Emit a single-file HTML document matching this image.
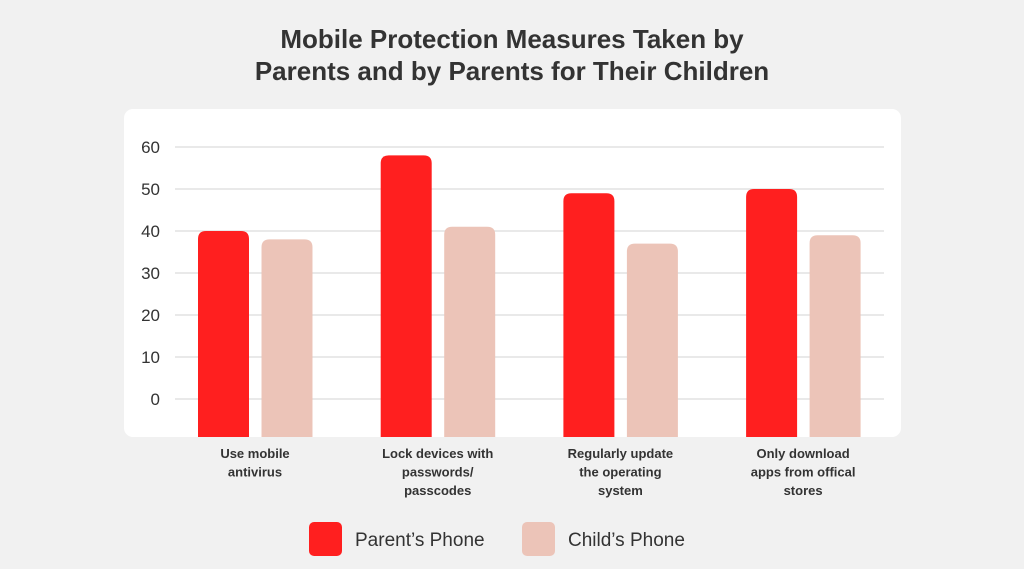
<!DOCTYPE html>
<html><head><meta charset="utf-8"><style>
body{margin:0;background:#f1f1f1;font-family:"Liberation Sans",sans-serif;}
svg{display:block}
</style></head><body>
<svg width="1024" height="569">
<rect x="0" y="0" width="1024" height="569" fill="#f1f1f1"/>
<text x="512" y="48" text-anchor="middle" font-size="26" font-weight="bold" fill="#333">Mobile Protection Measures Taken by</text>
<text x="512" y="80" text-anchor="middle" font-size="26" font-weight="bold" fill="#333">Parents and by Parents for Their Children</text>
<rect x="124" y="109" width="777" height="328" rx="9" fill="#fff"/>
<g id="grid"></g><g id="bars"></g><g id="labels"></g>
<rect x="309" y="522" width="33" height="34" rx="5" fill="#ff1f1f"/>
<text x="355" y="546" font-size="19" fill="#333">Parent’s Phone</text>
<rect x="522" y="522" width="33" height="34" rx="5" fill="#ecc4b8"/>
<text x="568" y="546" font-size="19" fill="#333">Child’s Phone</text>
</svg>
<script>
const categories=[["Use mobile","antivirus"],["Lock devices with","passwords/","passcodes"],["Regularly update","the operating","system"],["Only download","apps from offical","stores"]];
const parentValues=[40,58,49,50];
const childValues=[38,41,37,39];
const ticks=[0,10,20,30,40,50,60];
const NS="http://www.w3.org/2000/svg";
const y=v=>399-v*4.2;
const gx=i=>198+i*182.7;
function mk(t,a,p){const e=document.createElementNS(NS,t);for(const k in a)e.setAttribute(k,a[k]);p.appendChild(e);return e;}
const grid=document.getElementById('grid'),bars=document.getElementById('bars'),labels=document.getElementById('labels');
ticks.forEach(t=>{
 const l=mk('line',{x1:175,x2:884,y1:y(t),y2:y(t),stroke:'#e2e2e2','stroke-width':1.5},grid);
 
 
 const tx=mk('text',{x:160,y:y(t)+6,'text-anchor':'end','font-size':17,fill:'#333'},grid);
 tx.textContent=t;
 
 
});
function bar(x,v,c,p){
 const top=y(v),b=437,w=51,r=8;
 const d=`M${x},${b} V${top+r} Q${x},${top} ${x+r},${top} H${x+w-r} Q${x+w},${top} ${x+w},${top+r} V${b} Z`;
 return mk('path',{d:d,fill:c},p);
}
categories.forEach((c,i)=>{
 const a=bar(gx(i),parentValues[i],'#ff1f1f',bars);
 
 
 const b=bar(gx(i)+63.5,childValues[i],'#ecc4b8',bars);
 
 
 const t=mk('text',{x:gx(i)+57,'text-anchor':'middle','font-size':13,'font-weight':'bold',fill:'#333'},labels);
 
 
 c.forEach((s,j)=>{const ts=mk('tspan',{x:gx(i)+57,y:458+j*18.5},t);ts.textContent=s;});
});
</script>
</body></html>
